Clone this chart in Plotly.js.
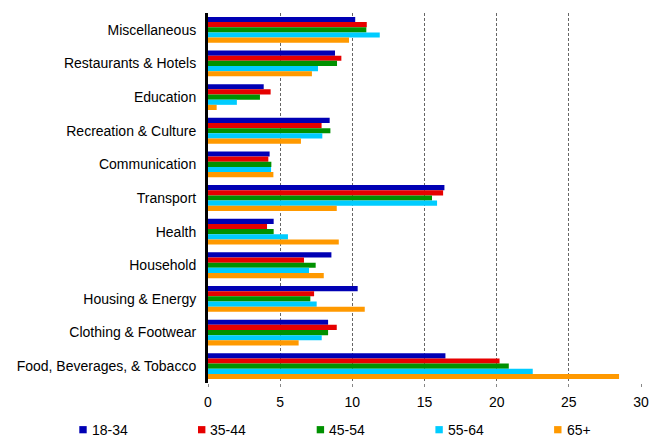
<!DOCTYPE html>
<html>
<head>
<meta charset="utf-8">
<script src="https://cdn.plot.ly/plotly-3.0.1.min.js"></script>
<style>html,body{margin:0;padding:0;background:#fff;}#chart{width:653px;height:437px;}</style>
</head>
<body>
<div id="chart"></div>
<script>
const categories = ["Miscellaneous", "Restaurants & Hotels", "Education", "Recreation & Culture", "Communication", "Transport", "Health", "Household", "Housing & Energy", "Clothing & Footwear", "Food, Beverages, & Tobacco"];
const seriesNames = ["18-34", "35-44", "45-54", "55-64", "65+"];
const age18_34 = [10.2, 8.8, 3.86, 8.43, 4.27, 16.38, 4.55, 8.55, 10.37, 8.32, 16.45];
const age35_44 = [11.0, 9.24, 4.34, 7.87, 4.18, 16.29, 4.09, 6.65, 7.35, 8.92, 20.2];
const age45_54 = [10.97, 8.94, 3.6, 8.48, 4.39, 15.52, 4.55, 7.46, 7.09, 8.32, 20.84];
const age55_64 = [11.9, 7.62, 2.0, 7.92, 4.37, 15.87, 5.54, 7.0, 7.53, 7.88, 22.5];
const age65plus = [9.77, 7.2, 0.6, 6.44, 4.53, 8.92, 9.06, 8.02, 10.86, 6.28, 28.48];
const xTicks = [0, 5, 10, 15, 20, 25, 30];

const colors = ["#0000B4", "#E60000", "#009100", "#00CCFF", "#FF9900"];
const values = [age18_34, age35_44, age45_54, age55_64, age65plus];

const W = 653, H = 437;
const M = {l: 208, r: 12, t: 13, b: 54};
const pw = W - M.l - M.r, ph = H - M.t - M.b;
const px2x = p => (p - M.l) / pw;
const py2y = p => (H - M.b - p) / ph;

const traces = seriesNames.map((name, i) => ({
  type: "bar",
  orientation: "h",
  name: name,
  y: categories,
  x: values[i],
  marker: {color: colors[i], line: {width: 0}},
  showlegend: false
}));

const font = {family: "Liberation Sans, Arial, sans-serif", size: 14, color: "#000"};

// custom legend (small squares close to labels, as in the reference)
const legendStart = 79.3, legendStep = 118.7, legendY = 429.7;
const shapes = [], annotations = [];
seriesNames.forEach((name, i) => {
  const x0 = legendStart + i * legendStep;
  shapes.push({type: "rect", xref: "paper", yref: "paper",
    x0: px2x(x0), x1: px2x(x0 + 7.4), y0: py2y(legendY + 3.6), y1: py2y(legendY - 3.6),
    fillcolor: colors[i], line: {width: 0}});
  annotations.push({xref: "paper", yref: "paper", x: px2x(x0 + 11.4), y: py2y(legendY),
    xanchor: "left", yanchor: "middle", text: name, showarrow: false, font: font, borderpad: 0});
});

const layout = {
  width: W, height: H,
  margin: M,
  paper_bgcolor: "#fff", plot_bgcolor: "#fff",
  font: font,
  barmode: "group",
  bargap: 0.232,
  bargroupgap: 0,
  showlegend: false,
  shapes: shapes,
  annotations: annotations,
  xaxis: {
    range: [0, 30], tickvals: xTicks, ticktext: xTicks.map(String),
    showgrid: true, gridcolor: "#666", griddash: "3px,2px", gridwidth: 1,
    zeroline: false, showline: false,
    ticks: "outside", ticklen: 3, tickcolor: "#888",
    ticklabelstandoff: 3, tickfont: font, fixedrange: true, automargin: false
  },
  yaxis: {
    type: "category", autorange: "reversed",
    showgrid: false, zeroline: false,
    showline: true, linecolor: "#000", linewidth: 3,
    ticks: "", ticklabelstandoff: 6, tickfont: font, fixedrange: true, automargin: false
  }
};

Plotly.newPlot("chart", traces, layout, {displayModeBar: false, staticPlot: true});
</script>
</body>
</html>
